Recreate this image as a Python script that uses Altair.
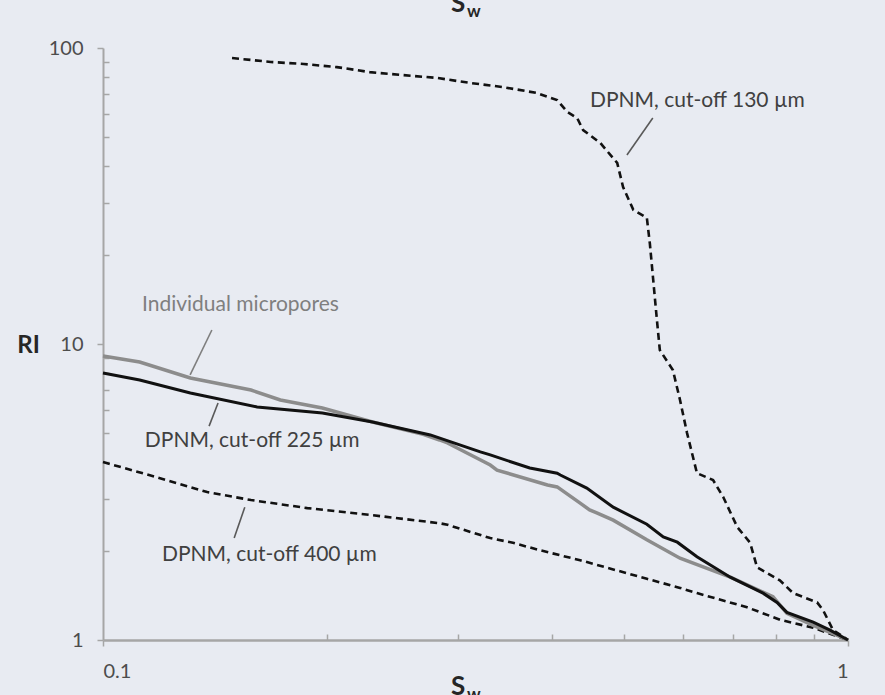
import altair as alt
import pandas as pd

# ---- data ----
s130_x = [0.149, 0.168, 0.186, 0.206, 0.228, 0.253, 0.281, 0.311, 0.344, 0.382, 0.407, 0.420,
          0.433, 0.441, 0.465, 0.490, 0.499, 0.515, 0.537, 0.542, 0.554, 0.559, 0.582, 0.595,
          0.608, 0.627, 0.659, 0.680, 0.710, 0.739, 0.755, 0.810, 0.844, 0.909, 0.926, 0.955, 1.0]
s130_y = [92.5, 89.7, 88.3, 86.2, 82.9, 81.0, 79.2, 76.2, 73.8, 70.5, 66.7, 60.8,
          58.0, 52.8, 47.8, 40.9, 33.9, 28.4, 26.7, 21.9, 12.05, 9.54, 8.17, 6.47,
          5.01, 3.66, 3.47, 3.04, 2.41, 2.13, 1.76, 1.59, 1.44, 1.34, 1.26, 1.08, 1.0]

s225_x = [0.100, 0.112, 0.131, 0.161, 0.197, 0.230, 0.275, 0.321, 0.331, 0.374, 0.407, 0.411,
          0.446, 0.484, 0.537, 0.565, 0.590, 0.627, 0.695, 0.769, 0.803, 0.828, 0.898, 0.946, 1.0]
s225_y = [7.98, 7.56, 6.83, 6.13, 5.85, 5.45, 4.93, 4.32, 4.22, 3.81, 3.66, 3.61,
          3.26, 2.81, 2.46, 2.23, 2.14, 1.91, 1.63, 1.44, 1.34, 1.24, 1.15, 1.08, 1.0]

micro_x = [0.100, 0.112, 0.131, 0.158, 0.173, 0.197, 0.230, 0.269, 0.283, 0.290, 0.331, 0.338,
           0.395, 0.407, 0.437, 0.450, 0.460, 0.484, 0.537, 0.595, 0.695, 0.793, 0.828, 0.898, 1.0]
micro_y = [9.11, 8.69, 7.68, 6.99, 6.47, 6.08, 5.45, 4.95, 4.74, 4.63, 3.90, 3.75,
           3.34, 3.29, 2.90, 2.75, 2.69, 2.54, 2.18, 1.89, 1.63, 1.40, 1.23, 1.12, 1.0]

s400_x = [0.100, 0.118, 0.138, 0.158, 0.188, 0.230, 0.283, 0.290, 0.331, 0.355, 0.386, 0.437,
          0.537, 0.595, 0.627, 0.732, 0.811, 0.898, 1.0]
s400_y = [3.99, 3.55, 3.16, 2.97, 2.79, 2.64, 2.48, 2.45, 2.21, 2.13, 2.01, 1.86,
          1.61, 1.50, 1.44, 1.29, 1.17, 1.10, 1.0]

label_text = ["DPNM, cut-off 130 µm", "Individual micropores", "DPNM, cut-off 225 µm", "DPNM, cut-off 400 µm"]
label_x = [0.4505, 0.1128, 0.1138, 0.120]
label_y = [66.2, 13.54, 4.70, 1.94]
label_color = ["#404040", "#7f7f7f", "#404040", "#404040"]

leader_x1 = [0.547, 0.140, 0.1427, 0.155]
leader_y1 = [58.0, 11.15, 6.32, 2.81]
leader_x2 = [0.505, 0.1309, 0.1388, 0.150]
leader_y2 = [43.5, 7.86, 5.28, 2.21]
leader_color = ["#595959", "#7f7f7f", "#595959", "#595959"]

x_major = [0.1, 1]
x_minor = [0.2, 0.3, 0.4, 0.5, 0.6, 0.7, 0.8, 0.9]
y_major = [1, 10, 100]
y_minor = [2, 3, 4, 5, 6, 7, 8, 9, 20, 30, 40, 50, 60, 70, 80, 90]

FONT = "Lato"
AXIS_GREY = "#a6a6a6"

xs = alt.Scale(type="log", domain=[0.1, 1], nice=False)
ys = alt.Scale(type="log", domain=[1, 100], nice=False)


def df(x, y):
    return pd.DataFrame({"Sw": x, "RI": y})


major_x_axis = alt.Axis(values=x_major, orient="bottom", format="~g", tickSize=6,
                        tickColor=AXIS_GREY, tickWidth=1.5, domainColor=AXIS_GREY, domainWidth=2.5,
                        labelFont=FONT, labelFontSize=20, labelColor="#4d4d4d", labelPadding=15,
                        title=None, grid=False)
major_y_axis = alt.Axis(values=y_major, orient="left", format="~g", tickSize=6,
                        tickColor=AXIS_GREY, tickWidth=1.5, domainColor=AXIS_GREY, domainWidth=2,
                        labelFont=FONT, labelFontSize=20, labelColor="#4d4d4d", labelPadding=14,
                        title="RI", titleAngle=0, titleFont=FONT, titleFontSize=24,
                        titleFontWeight="bold", titleColor="#262626", titleX=-75, titleY=297,
                        titleAlign="center", titleBaseline="middle", grid=False)
minor_x_axis = alt.Axis(values=x_minor, orient="bottom", offset=-6, tickSize=6,
                        tickColor=AXIS_GREY, tickWidth=1.5, domain=False, labels=False,
                        title=None, grid=False)
minor_y_axis = alt.Axis(values=y_minor, orient="left", offset=-6, tickSize=6,
                        tickColor=AXIS_GREY, tickWidth=1.5, domain=False, labels=False,
                        title=None, grid=False)

dash = [7, 4.5]

l130 = alt.Chart(df(s130_x, s130_y)).mark_line(color="#111111", strokeWidth=2.6, strokeDash=dash).encode(
    x=alt.X("Sw:Q", scale=xs, axis=major_x_axis),
    y=alt.Y("RI:Q", scale=ys, axis=major_y_axis),
)
l400 = alt.Chart(df(s400_x, s400_y)).mark_line(color="#111111", strokeWidth=2.6, strokeDash=dash).encode(
    x=alt.X("Sw:Q", scale=xs, axis=minor_x_axis),
    y=alt.Y("RI:Q", scale=ys, axis=minor_y_axis),
)
lmicro = alt.Chart(df(micro_x, micro_y)).mark_line(color="#8c8c8c", strokeWidth=3.5).encode(
    x=alt.X("Sw:Q", scale=xs, axis=None),
    y=alt.Y("RI:Q", scale=ys, axis=None),
)
l225 = alt.Chart(df(s225_x, s225_y)).mark_line(color="#111111", strokeWidth=3).encode(
    x=alt.X("Sw:Q", scale=xs, axis=None),
    y=alt.Y("RI:Q", scale=ys, axis=None),
)

leaders = alt.Chart(pd.DataFrame({"x1": leader_x1, "y1": leader_y1, "x2": leader_x2,
                                  "y2": leader_y2, "c": leader_color})).mark_rule(strokeWidth=1.6).encode(
    x=alt.X("x1:Q", scale=xs, axis=None),
    y=alt.Y("y1:Q", scale=ys, axis=None),
    x2="x2:Q",
    y2="y2:Q",
    color=alt.Color("c:N", scale=None),
)

labels = alt.Chart(pd.DataFrame({"t": label_text, "x": label_x, "y": label_y, "c": label_color})).mark_text(
    align="left", baseline="middle", font=FONT, fontSize=21
).encode(
    x=alt.X("x:Q", scale=xs, axis=None),
    y=alt.Y("y:Q", scale=ys, axis=None),
    text="t:N",
    color=alt.Color("c:N", scale=None),
)

# S_w titles (top one is cropped as in the reference)
title_df = pd.DataFrame({"a": [0]})
top_S = alt.Chart(title_df).mark_text(text="S", font=FONT, fontSize=26, fontWeight="bold",
                                      color="#262626", align="center", baseline="alphabetic").encode(
    x=alt.value(355), y=alt.value(-36))
top_w = alt.Chart(title_df).mark_text(text="w", font=FONT, fontSize=17, fontWeight="bold",
                                      color="#262626", align="left", baseline="alphabetic").encode(
    x=alt.value(364), y=alt.value(-31))
bot_S = alt.Chart(title_df).mark_text(text="S", font=FONT, fontSize=26, fontWeight="bold",
                                      color="#262626", align="center", baseline="alphabetic").encode(
    x=alt.value(355), y=alt.value(647))
bot_w = alt.Chart(title_df).mark_text(text="w", font=FONT, fontSize=17, fontWeight="bold",
                                      color="#262626", align="left", baseline="alphabetic").encode(
    x=alt.value(364), y=alt.value(652))

chart = alt.layer(l130, l400, lmicro, l225, leaders, labels, top_S, top_w, bot_S, bot_w).resolve_axis(
    x="independent", y="independent"
).properties(
    width=745, height=592,
    autosize=alt.AutoSizeParams(type="none"),
    padding={"left": 103, "top": 48, "right": 37, "bottom": 55},
    background="#e8ebf2",
).configure_view(stroke=None)

chart.save("out.html", embed_options={"renderer": "svg", "actions": False})
